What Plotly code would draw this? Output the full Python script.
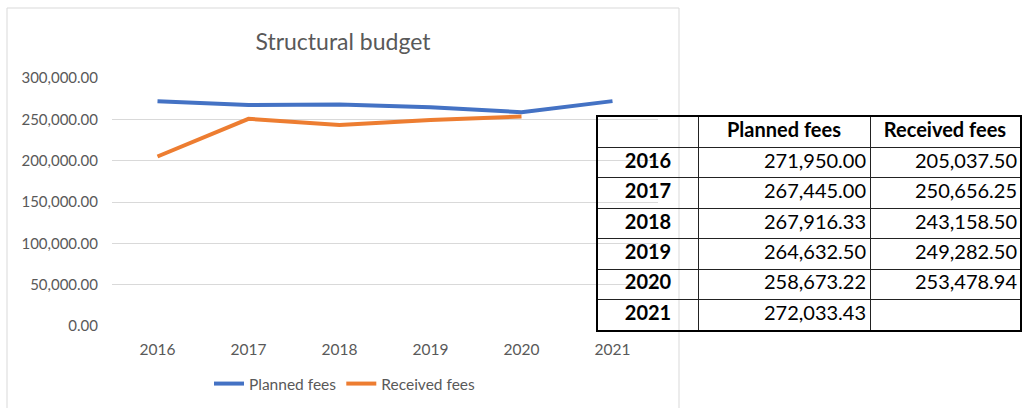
import plotly.graph_objects as go

years = ["2016", "2017", "2018", "2019", "2020", "2021"]
planned_fees = [271950.00, 267445.00, 267916.33, 264632.50, 258673.22, 272033.43]
received_fees = [205037.50, 250656.25, 243158.50, 249282.50, 253478.94, None]
y_ticks = [0, 50000, 100000, 150000, 200000, 250000, 300000]
table_headers = ["Planned fees", "Received fees"]

W, H = 1022, 408
def px(x):
    return x / W
def py(y):
    return 1 - y / H

FONT = "Lato"
GRAY = "#595959"
BLUE = "#4472C4"
ORANGE = "#ED7D31"

fig = go.Figure()
fig.add_trace(go.Scatter(x=years, y=planned_fees, mode="lines", name="Planned fees",
                         line=dict(color=BLUE, width=4)))
fig.add_trace(go.Scatter(x=years, y=received_fees, mode="lines", name="Received fees",
                         line=dict(color=ORANGE, width=4), connectgaps=False))

# ---- table drawn on its own pair of axes (x2/y2) ----
col_edges = [0, 100, 272, 422]      # table column boundaries (table units = px)
n_rows = len(years) + 1              # header + data rows
def fmt(v):
    return "" if v is None else f"{v:,.2f}"

rows = [i + 1.5 for i in range(len(years))]
tfont = dict(family=FONT, size=20, color="black")
# header
fig.add_trace(go.Scatter(x=[(col_edges[1] + col_edges[2]) / 2, (col_edges[2] + col_edges[3]) / 2],
                         y=[0.5, 0.5], mode="text", text=["<b>" + h + "</b>" for h in table_headers],
                         textposition="middle center", textfont=tfont,
                         xaxis="x2", yaxis="y2", showlegend=False, hoverinfo="skip"))
# year column
fig.add_trace(go.Scatter(x=[(col_edges[0] + col_edges[1]) / 2] * len(years), y=rows,
                         mode="text", text=["<b>" + y + "</b>" for y in years],
                         textposition="middle center", textfont=tfont,
                         xaxis="x2", yaxis="y2", showlegend=False, hoverinfo="skip"))
# planned column
fig.add_trace(go.Scatter(x=[col_edges[2] - 4] * len(years), y=rows,
                         mode="text", text=[fmt(v) for v in planned_fees],
                         textposition="middle left", textfont=tfont,
                         xaxis="x2", yaxis="y2", showlegend=False, hoverinfo="skip"))
# received column
fig.add_trace(go.Scatter(x=[col_edges[3] - 3] * len(years), y=rows,
                         mode="text", text=[fmt(v) for v in received_fees],
                         textposition="middle left", textfont=tfont,
                         xaxis="x2", yaxis="y2", showlegend=False, hoverinfo="skip"))

fig.update_layout(
    width=W, height=H,
    margin=dict(l=0, r=0, t=0, b=0, autoexpand=False),
    paper_bgcolor="white", plot_bgcolor="rgba(0,0,0,0)",
    font=dict(family=FONT, color=GRAY, size=15.5),
    title=dict(text="Structural budget", x=px(343), xanchor="center",
               y=py(42), yanchor="middle", yref="paper", automargin=False,
               font=dict(family=FONT, size=23, color=GRAY)),
    xaxis=dict(domain=[px(112), px(658)], type="category", range=[-0.5, 5.5],
               showgrid=False, showline=False, zeroline=False, ticks="",
               automargin=False, ticklabelstandoff=12,
               tickfont=dict(size=15.5, color=GRAY)),
    yaxis=dict(domain=[py(326), py(78)], range=[0, 300000], tickvals=y_ticks,
               tickformat=",.2f", showgrid=True, gridcolor="#D9D9D9", gridwidth=1.3,
               zeroline=False, showline=False, ticks="", ticklen=0, automargin=False,
               ticklabelstandoff=13, tickfont=dict(size=15, color=GRAY)),
    xaxis2=dict(domain=[px(598), px(1020)], range=[0, col_edges[-1]], anchor="y2",
                tickvals=col_edges, showticklabels=False, ticks="",
                showgrid=True, gridcolor="#222222", gridwidth=1.2, zeroline=False,
                showline=True, mirror=True, linecolor="black", linewidth=2,
                automargin=False, fixedrange=True),
    yaxis2=dict(domain=[py(330), py(117)], range=[n_rows, 0], anchor="x2",
                tickvals=list(range(n_rows + 1)), showticklabels=False, ticks="",
                showgrid=True, gridcolor="#222222", gridwidth=1.2, zeroline=False,
                showline=True, mirror=True, linecolor="black", linewidth=2,
                automargin=False, fixedrange=True),
    legend=dict(orientation="h", x=px(345), xanchor="center", y=py(384), yanchor="middle",
                font=dict(size=15.5, color=GRAY), bgcolor="rgba(0,0,0,0)"),
    shapes=[dict(type="rect", xref="paper", yref="paper", x0=px(7), x1=px(679),
                 y0=py(412), y1=py(8), line=dict(color="#D9D9D9", width=1),
                 layer="below")],
)

fig.write_html("out.html")
